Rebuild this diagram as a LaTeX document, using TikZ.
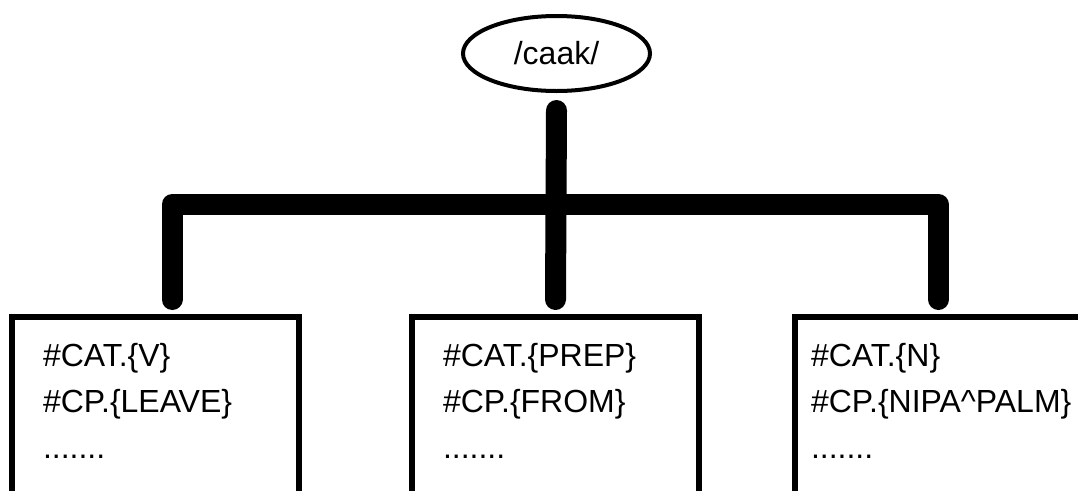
\documentclass[tikz,border=0pt]{standalone}
\usepackage{fontspec}
\setmainfont{Liberation Sans}
\usetikzlibrary{shapes.geometric, positioning}

% three lines of a lexical entry: category, concept, rest
\newcommand{\senselines}[3][4.5cm]{%
  \parbox[t][4.4cm][t]{#1}{\#CAT.\{#2\}\\\#CP.\{#3\}\\.......}}

\begin{document}
\begin{tikzpicture}[
    font=\fontsize{18.2pt}{26.2pt}\selectfont,
    word/.style={
        ellipse,
        draw,
        line width=0.08cm,
        minimum width=3.74cm,
        minimum height=1.5cm
    },
    sense/.style={
        rectangle,
        draw,
        line width=0.12cm,
        inner xsep=0.62cm,
        inner ysep=0.53cm
    },
    branch/.style={line width=0.42cm, line cap=round, line join=round}
]
\useasboundingbox (0,0) rectangle (21.56,9.8);
\clip (0,0) rectangle (21.56,9.8);

\node[word] (word) at (11.13,8.73) {/caak/};

\node[sense, anchor=north west] (sense1) at (0.18,3.52)
{\senselines{V}{LEAVE}};
\node[sense, right=2.14cm of sense1] (sense2)
{\senselines{PREP}{FROM}};
\node[sense, inner xsep=0.32cm, right=1.8cm of sense2] (sense3)
{\senselines[5.1cm]{N}{NIPA\textasciicircum PALM}};

\coordinate (fork) at (11.13,5.71);

\draw[branch] ([yshift=-0.35cm]word.south) -- ([yshift=0.29cm]sense2.north);
\draw[branch] ([xshift=0.33cm, yshift=0.29cm]sense1.north) |- (fork)
    -| ([yshift=0.29cm]sense3.north);

\end{tikzpicture}
\end{document}
